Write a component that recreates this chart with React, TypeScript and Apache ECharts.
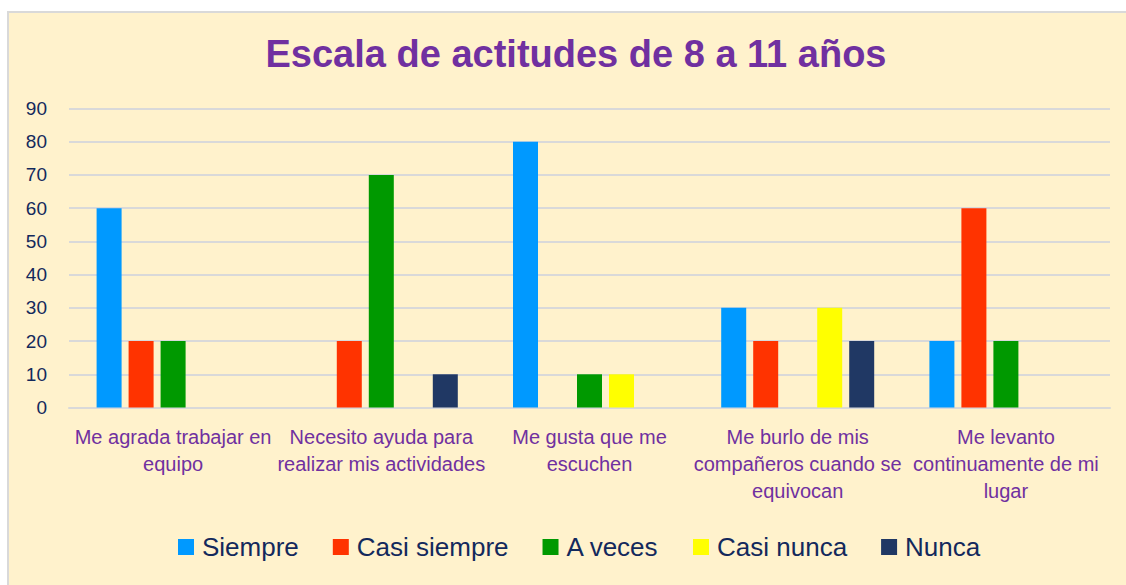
import React, { useEffect, useRef } from "react";
import * as echarts from "echarts";

const categories = [
  "Me agrada trabajar en\nequipo",
  "Necesito ayuda para\nrealizar mis actividades",
  "Me gusta que me\nescuchen",
  "Me burlo de mis\ncompañeros cuando se\nequivocan",
  "Me levanto\ncontinuamente de mi\nlugar",
];
const seriesNames = ["Siempre", "Casi siempre", "A veces", "Casi nunca", "Nunca"];
const siempre = [60, 0, 80, 30, 20];
const casiSiempre = [20, 20, 0, 20, 60];
const aVeces = [20, 70, 10, 0, 20];
const casiNunca = [0, 0, 10, 30, 0];
const nunca = [0, 10, 0, 20, 0];
const colors = ["#0099FF", "#FF3300", "#009900", "#FFFF00", "#203864"];
const yTicks = { min: 0, max: 90, interval: 10 };

export default function App() {
  const ref = useRef<HTMLDivElement>(null);
  useEffect(() => {
    if (!ref.current) return;
    const chart = echarts.init(ref.current, undefined, { renderer: "svg" });
    const values = [siempre, casiSiempre, aVeces, casiNunca, nunca];
    chart.setOption({
      animation: false,
      backgroundColor: "#ffffff",
      textStyle: { fontFamily: "Liberation Sans, Arial, sans-serif" },
      graphic: [
        {
          type: "rect",
          z: -100,
          silent: true,
          shape: { x: 8, y: 12, width: 1130, height: 600 },
          style: { fill: "#FFF2CC", stroke: "#D9D9D9", lineWidth: 2 },
        },
      ],
      title: {
        text: "Escala de actitudes de 8 a 11 años",
        left: 571,
        top: 30,
        textAlign: "center",
        textStyle: {
          color: "#7030A0",
          fontSize: 38,
          fontWeight: "bold",
          fontFamily: "Liberation Sans, Arial, sans-serif",
        },
      },
      legend: {
        left: 173,
        top: 529,
        itemWidth: 16,
        itemHeight: 16,
        itemGap: 34,
        icon: "rect",
        data: seriesNames,
        textStyle: {
          color: "#13295C",
          fontSize: 26,
          padding: [0, 0, 0, 3],
          fontFamily: "Liberation Sans, Arial, sans-serif",
        },
      },
      grid: { left: 69, right: 16, top: 108.5, bottom: 177.5, containLabel: false },
      xAxis: {
        type: "category",
        data: categories,
        axisLine: { lineStyle: { color: "#D9D9D9", width: 2 } },
        axisTick: { show: false },
        axisLabel: {
          color: "#7030A0",
          fontSize: 20,
          lineHeight: 27,
          margin: 16,
          interval: 0,
          fontFamily: "Liberation Sans, Arial, sans-serif",
        },
      },
      yAxis: {
        type: "value",
        min: yTicks.min,
        max: yTicks.max,
        interval: yTicks.interval,
        axisLine: { show: false },
        axisTick: { show: false },
        splitLine: { lineStyle: { color: "#D9D9D9", width: 2 } },
        axisLabel: {
          color: "#13295C",
          fontSize: 19,
          margin: 22,
          fontFamily: "Liberation Sans, Arial, sans-serif",
        },
      },
      series: seriesNames.map((name, i) => ({
        name,
        type: "bar",
        data: values[i],
        barWidth: 25,
        barGap: "28%",
        itemStyle: { color: colors[i] },
      })),
    });
    return () => chart.dispose();
  }, []);
  return (
    <div
      ref={ref}
      style={{ position: "absolute", left: 0, top: 0, width: 1126, height: 585 }}
    />
  );
}
